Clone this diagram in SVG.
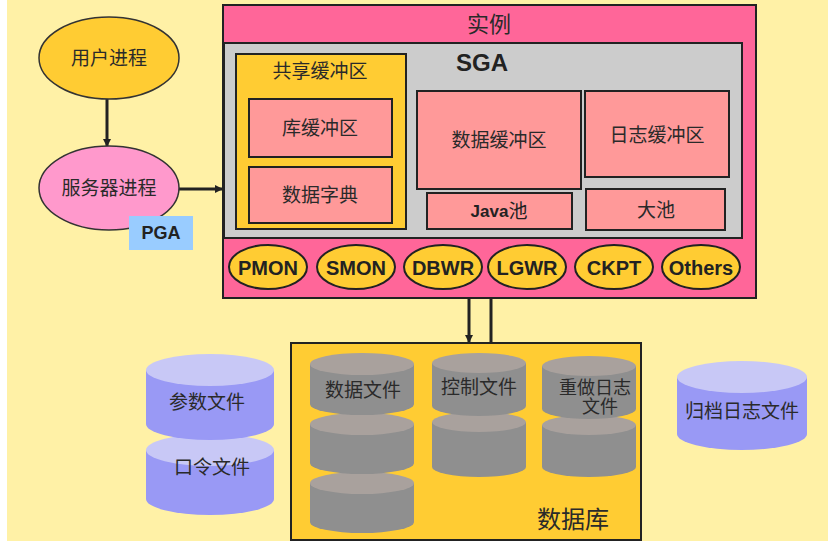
<svg xmlns="http://www.w3.org/2000/svg" width="839" height="546" viewBox="0 0 839 546">
<defs>
<style>
.box{stroke:#222;stroke-width:2}
.pink{fill:#FF9999}
.cn{font-family:"Liberation Serif","Noto Sans CJK SC",serif;font-size:19px;fill:#2a2a2a;text-anchor:middle;dominant-baseline:central}
.en{font-family:"Liberation Sans",Arial,sans-serif;font-weight:bold;fill:#222;text-anchor:middle;dominant-baseline:central}
.proc{fill:#FFCC33;stroke:#222;stroke-width:2}
.conn{stroke:#222;stroke-width:3;fill:none}
.gtop{fill:#A9A19D}
.gbody{fill:#8F8F8F}
.btop{fill:#C8C8F6}
.bbody{fill:#9999F5}
</style>
<marker id="arr" markerWidth="8" markerHeight="8" refX="7" refY="4" orient="auto" markerUnits="userSpaceOnUse">
<path d="M0,0 L8,4 L0,8 Z" fill="#222"/>
</marker>
</defs>
<rect x="0" y="0" width="839" height="546" fill="#FFFFFF"/>
<rect x="7" y="0" width="821" height="541" fill="#FFF1A6"/>

<g id="connectors">
<line class="conn" x1="107" y1="99" x2="107" y2="146" marker-end="url(#arr)"/>
<line class="conn" x1="179" y1="189" x2="222" y2="189" marker-end="url(#arr)"/>
<line class="conn" x1="469" y1="298" x2="469" y2="342" marker-end="url(#arr)"/>
<line class="conn" x1="491" y1="298" x2="491" y2="343"/>
</g>

<g id="user-process">
<ellipse cx="109" cy="58" rx="70" ry="41" fill="#FFCC33" stroke="#333" stroke-width="1.5"/>
<text class="cn" x="109" y="58">用户进程</text>
</g>
<g id="server-process">
<ellipse cx="109" cy="188" rx="70" ry="42" fill="#FF99CC" stroke="#333" stroke-width="1.5"/>
<text class="cn" x="109" y="188">服务器进程</text>
</g>
<g id="pga">
<rect x="129" y="216" width="64" height="34" fill="#99CCFF"/>
<text class="en" x="161" y="233" font-size="18">PGA</text>
</g>

<g id="instance">
<rect class="box" x="223" y="5" width="533" height="293" fill="#FF6699"/>
<text class="cn" x="489" y="24" style="font-size:22px">实例</text>
</g>
<g id="sga">
<rect class="box" x="224" y="43" width="518" height="195" fill="#CCCCCC"/>
<text class="en" x="482" y="62" font-size="24">SGA</text>
</g>
<g id="shared-pool">
<rect class="box" x="236" y="54" width="170" height="175" fill="#FFCC33"/>
<text class="cn" x="320" y="71">共享缓冲区</text>
</g>
<g id="library-cache">
<rect class="box pink" x="249" y="99" width="143" height="58"/>
<text class="cn" x="320" y="128">库缓冲区</text>
</g>
<g id="data-dictionary">
<rect class="box pink" x="249" y="167" width="143" height="56"/>
<text class="cn" x="320" y="195">数据字典</text>
</g>
<g id="db-buffer">
<rect class="box pink" x="417" y="91" width="164" height="98"/>
<text class="cn" x="499" y="140">数据缓冲区</text>
</g>
<g id="log-buffer">
<rect class="box pink" x="585" y="91" width="144" height="86"/>
<text class="cn" x="657" y="135">日志缓冲区</text>
</g>
<g id="java-pool">
<rect class="box pink" x="427" y="193" width="145" height="36"/>
<text x="499" y="211" style="font-family:'Liberation Sans','Noto Sans CJK SC',sans-serif;font-weight:bold;font-size:17px;fill:#222;text-anchor:middle;dominant-baseline:central">Java<tspan style="font-family:'Liberation Serif','Noto Sans CJK SC',serif;font-weight:normal;font-size:19px">池</tspan></text>
</g>
<g id="large-pool">
<rect class="box pink" x="586" y="189" width="139" height="41"/>
<text class="cn" x="656" y="210">大池</text>
</g>

<g id="pmon"><ellipse class="proc" cx="268" cy="267" rx="39" ry="22"/><text class="en" x="268" y="268" font-size="20">PMON</text></g>
<g id="smon"><ellipse class="proc" cx="356" cy="267" rx="39" ry="22"/><text class="en" x="356" y="268" font-size="20">SMON</text></g>
<g id="dbwr"><ellipse class="proc" cx="443" cy="267" rx="39" ry="22"/><text class="en" x="443" y="268" font-size="20">DBWR</text></g>
<g id="lgwr"><ellipse class="proc" cx="527" cy="267" rx="39" ry="22"/><text class="en" x="527" y="268" font-size="20">LGWR</text></g>
<g id="ckpt"><ellipse class="proc" cx="614" cy="267" rx="39" ry="22"/><text class="en" x="614" y="268" font-size="20">CKPT</text></g>
<g id="others"><ellipse class="proc" cx="701" cy="267" rx="39" ry="22"/><text class="en" x="701" y="268" font-size="20">Others</text></g>

<g id="database">
<rect class="box" x="291" y="343" width="350" height="197" fill="#FFCC33"/>
<text class="cn" x="573" y="520" style="font-size:24px">数据库</text>
</g>

<g id="data-files">
<path class="gbody" d="M310,483 L310,522 A52,11 0 0 0 414,522 L414,483 Z"/>
<ellipse class="gtop" cx="362" cy="483" rx="52" ry="11"/>
<path class="gbody" d="M310,424 L310,463 A52,11 0 0 0 414,463 L414,424 Z"/>
<ellipse class="gtop" cx="362" cy="424" rx="52" ry="11"/>
<path class="gbody" d="M310,364 L310,404 A52,11 0 0 0 414,404 L414,364 Z"/>
<ellipse class="gtop" cx="362" cy="364" rx="52" ry="11"/>
<text class="cn" x="363" y="390">数据文件</text>
</g>
<g id="control-files">
<path class="gbody" d="M432,422 L432,467 A47,10 0 0 0 526,467 L526,422 Z"/>
<ellipse class="gtop" cx="479" cy="422" rx="47" ry="10"/>
<path class="gbody" d="M432,363 L432,406 A47,10 0 0 0 526,406 L526,363 Z"/>
<ellipse class="gtop" cx="479" cy="363" rx="47" ry="10"/>
<text class="cn" x="479" y="387">控制文件</text>
</g>
<g id="redo-files">
<path class="gbody" d="M542,425 L542,467 A47,10 0 0 0 636,467 L636,425 Z"/>
<ellipse class="gtop" cx="589" cy="425" rx="47" ry="10"/>
<path class="gbody" d="M542,366 L542,409 A47,10 0 0 0 636,409 L636,366 Z"/>
<ellipse class="gtop" cx="589" cy="366" rx="47" ry="10"/>
<text class="cn" x="595" y="388" style="font-size:18px">重做日志</text>
<text class="cn" x="600" y="407" style="font-size:18px">文件</text>
</g>

<g id="param-password-files">
<path class="bbody" d="M146,450 L146,499 A64,16 0 0 0 274,499 L274,450 Z"/>
<ellipse class="btop" cx="210" cy="450" rx="64" ry="16"/>
<path class="bbody" d="M146,370 L146,424 A64,16 0 0 0 274,424 L274,370 Z"/>
<ellipse class="btop" cx="210" cy="370" rx="64" ry="16"/>
<text class="cn" x="207" y="402">参数文件</text>
<text class="cn" x="212" y="467">口令文件</text>
</g>
<g id="archive-files">
<path class="bbody" d="M677,377 L677,434 A65,16 0 0 0 807,434 L807,377 Z"/>
<ellipse class="btop" cx="742" cy="377" rx="65" ry="16"/>
<text class="cn" x="742" y="411">归档日志文件</text>
</g>
</svg>
